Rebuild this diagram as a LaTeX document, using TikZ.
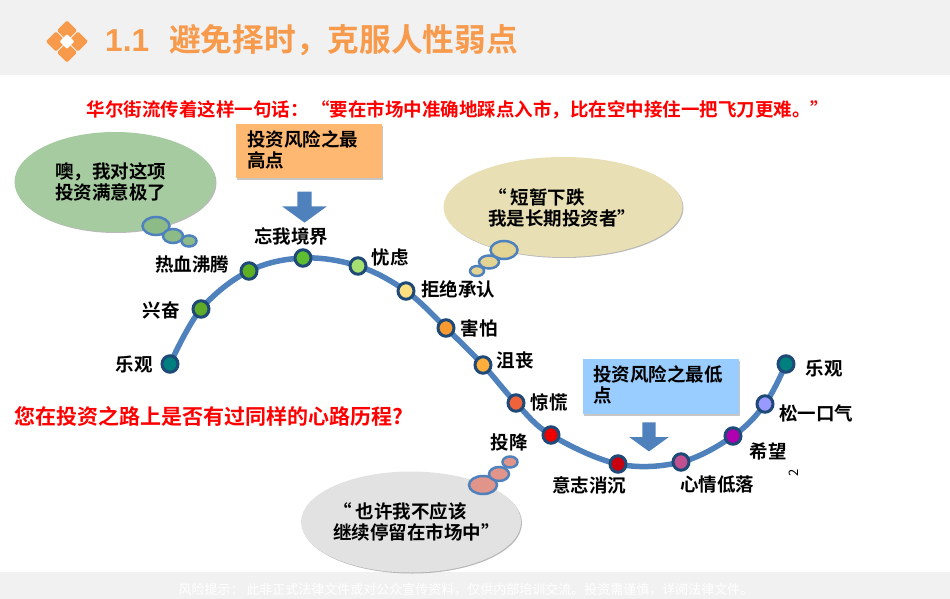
\documentclass[tikz,border=0pt]{standalone}
\usepackage{fontspec}
\setmainfont{Noto Sans CJK SC}[BoldFont={Noto Sans CJK SC Bold}]
\newfontfamily\titlefont{Liberation Sans}
\usetikzlibrary{backgrounds}
\usetikzlibrary{shapes.arrows}
\usetikzlibrary{shapes.geometric}
\usetikzlibrary{shadows}
\definecolor{bandgray}{HTML}{F1F1F1}
\definecolor{titleorange}{HTML}{F79A4B}
\definecolor{curveblue}{HTML}{4F81BD}
\definecolor{ringblue}{HTML}{1F4A78}
\definecolor{boxorange}{HTML}{FFB871}
\definecolor{boxblue}{HTML}{99CCFF}
\definecolor{cloudgreen}{HTML}{A6CBA0}
\definecolor{cloudtan}{HTML}{E8DFB4}
\definecolor{cloudgray}{HTML}{E2E2E2}
\definecolor{dotgreen}{HTML}{8DBB88}
\definecolor{dottan}{HTML}{E3D493}
\definecolor{dotpink}{HTML}{E0948A}
\tikzset{
  lbl/.style={font=\fontsize{18.5}{21}\selectfont\bfseries,inner sep=0pt},
  stage/.style={ellipse,draw=ringblue,line width=3pt,minimum width=16pt,minimum height=16.5pt,inner sep=0pt},
  cloud/.style={ellipse,inner sep=0pt,drop shadow={shadow xshift=1pt,shadow yshift=-1pt,opacity=.55}},
  dot/.style={ellipse,draw=curveblue,line width=2.5pt,inner sep=0pt},
  says/.style={font=\fontsize{18.5}{21.5}\selectfont\bfseries,align=left,inner sep=0pt,anchor=west},
  panel/.style={anchor=north west,inner sep=0pt,drop shadow={shadow xshift=1pt,shadow yshift=-1.5pt,opacity=.45}},
  down/.style={single arrow,single arrow tip angle=108,shape border rotate=270,fill=curveblue,inner sep=7pt},
}
\begin{document}
\begin{tikzpicture}[x=1pt,y=-1pt]
\useasboundingbox (0,0) rectangle (950,599);

\fill[bandgray] (0,0) rectangle (950,75);
\fill[bandgray] (0,572) rectangle (950,599);

% logo
\foreach \mx/\my in {67/30.5,56/41.5,78/41.5,67/52.5}
  \node[diamond,fill=titleorange,rounded corners=1.5pt,minimum size=20.5pt,inner sep=0pt] (logo\mx\my) at (\mx,\my) {};
\node[diamond,fill=white,rounded corners=1pt,minimum size=15pt,inner sep=0pt] (logoc) at (67,41.5) {};

\node[anchor=west,text=titleorange,font=\fontsize{31.7}{34}\selectfont\bfseries,inner sep=0pt] (title) at (105,40) {{\titlefont 1.1}\hspace{20pt}避免择时，克服人性弱点};

\node[text=red,font=\fontsize{18.5}{20}\selectfont\bfseries,inner sep=0pt] (quote) at (458,110) {华尔街流传着这样一句话：\hspace{3pt}“要在市场中准确地踩点入市，比在空中接住一把飞刀更难。”};
\node[anchor=west,text=red,font=\fontsize{21}{23}\selectfont\bfseries,inner sep=0pt] (ask) at (14,416) {您在投资之路上是否有过同样的心路历程?};

% risk boxes
\node[panel,fill=boxorange,minimum width=146pt,minimum height=54pt] (high) at (236,124) {};
\node[says] (hightxt) at (247,150) {投资风险之最\\高点};
\node[down,single arrow head extend=15pt,minimum height=31pt] (higharr) at (304.5,204.5) {};
\node[panel,fill=boxblue,minimum width=156pt,minimum height=55pt] (low) at (583,359) {};
\node[says] (lowtxt) at (593,385) {投资风险之最低\\点};
\node[down,inner sep=6.5pt,single arrow head extend=13pt,minimum height=29pt] (lowarr) at (649,434.5) {};

% stages
\foreach \nm/\px/\py/\col in {
  a/170/364/007F7F, b/201/309/5FAB28, c/249/271/5DB020,
  d/303/258/5EBE30, e/358/266/A5E070, f/406/291/FFE080,
  g/446/328/F79A30, h/483/365/FFAE3C, i/516/403/F0623A,
  j/551/435/EE0000, k/618/464/C80010, l/681/462/C0508F,
  m/733/436/B000B0, n/765/404/9999FF, o/786/364/007F7F} {
  \definecolor{stagecol}{HTML}{\col}
  \node[stage,fill=stagecol] (\nm) at (\px,\py) {};
}

\begin{scope}[on background layer]
\draw[curveblue,line width=5.5pt] plot[smooth,tension=.6] coordinates {(a) (b) (c) (d) (e) (f) (g) (h) (i) (j) (k) (l) (m) (n) (o)};
\end{scope}

\node[lbl] (la) at (134,365) {乐观};
\node[lbl] (lb) at (161,310) {兴奋};
\node[lbl] (lc) at (192,264) {热血沸腾};
\node[lbl] (ld) at (291,236) {忘我境界};
\node[lbl] (le) at (390,257) {忧虑};
\node[lbl] (lf) at (458,289) {拒绝承认};
\node[lbl] (lg) at (479,328) {害怕};
\node[lbl] (lh) at (515,360) {沮丧};
\node[lbl] (li) at (549,402) {惊慌};
\node[lbl] (lj) at (509,442) {投降};
\node[lbl] (lk) at (589,485) {意志消沉};
\node[lbl] (ll) at (717,485) {心情低落};
\node[lbl] (lm) at (768,451) {希望};
\node[lbl] (ln) at (816,413) {松一口气};
\node[lbl] (lo) at (824,369) {乐观};

% thought bubbles
\node[cloud,fill=cloudgreen,minimum width=201pt,minimum height=100pt] (happy) at (115,182) {};
\node[says] (happytxt) at (55,182) {噢，我对这项\\投资满意极了};
\node[dot,fill=dotgreen,minimum width=27pt,minimum height=18pt] (happy1) at (156,226) {};
\node[dot,fill=dotgreen,minimum width=20pt,minimum height=14pt] (happy2) at (173,236) {};
\node[dot,fill=dotgreen,minimum width=15pt,minimum height=11pt] (happy3) at (189,241) {};

\node[cloud,fill=cloudtan,minimum width=239pt,minimum height=100pt] (calm) at (563,207) {};
\node[says] (calmtxt) at (488,208) {“\hspace{4pt}短暂下跌\\我是长期投资者”};
\node[dot,fill=dottan,minimum width=27pt,minimum height=18pt] (calm1) at (504,250) {};
\node[dot,fill=dottan,minimum width=20pt,minimum height=13pt] (calm2) at (489,262) {};
\node[dot,fill=dottan,minimum width=14pt,minimum height=10pt] (calm3) at (477,271) {};

\node[cloud,fill=cloudgray,minimum width=220pt,minimum height=101pt] (doubt) at (411,522) {};
\node[says] (doubttxt) at (333,522) {“\hspace{4pt}也许我不应该\\继续停留在市场中”};
\node[dot,fill=dotpink,minimum width=28pt,minimum height=18pt] (doubt1) at (483,485) {};
\node[dot,fill=dotpink,minimum width=20pt,minimum height=14pt] (doubt2) at (499,474) {};
\node[dot,fill=dotpink,minimum width=15pt,minimum height=11pt] (doubt3) at (510,462) {};

\node[rotate=90,font=\fontsize{13}{14}\selectfont,inner sep=0pt] (pageno) at (794,473) {2};
\node[text=white,font=\fontsize{13}{14}\selectfont,inner sep=0pt] (risk) at (466,590) {风险提示： 此非正式法律文件或对公众宣传资料，仅供内部培训交流。投资需谨慎，详阅法律文件。};
\end{tikzpicture}
\end{document}
